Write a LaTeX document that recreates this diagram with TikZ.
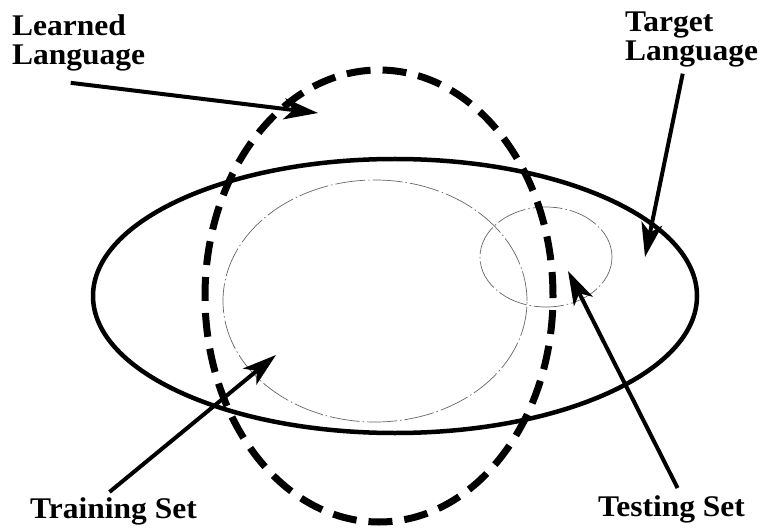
\documentclass[tikz,border=0pt]{standalone}
\usepackage{fontspec}
\setmainfont{Liberation Serif}[FakeStretch=1.05]
\usetikzlibrary{arrows.meta}

\begin{document}
\begin{tikzpicture}[
    x=1pt, y=-1pt,
    font=\fontsize{30}{29}\selectfont\bfseries,
    lang/.style={line width=4.5pt, black},
    learn/.style={line width=7pt, black, dash pattern=on 24pt off 12pt},
    faint/.style={line width=0.7pt, black!60, dash pattern=on 30pt off 3pt on 1.5pt off 3pt},
    ptr/.style={-{Stealth[length=34pt, width=21pt, inset=9pt]}, line width=4pt, black},
    tag/.style={inner sep=0pt, align=left}
  ]
    \useasboundingbox (0,0) rectangle (773,529);
    % ---- sets ----
    \draw[faint] (375,301) ellipse [x radius=152pt, y radius=121pt];
    \draw[faint] (546,257) ellipse [x radius=66pt, y radius=50pt];
    \draw[lang] (395,296) ellipse [x radius=302pt, y radius=137pt];
    \draw[learn] (379,296) ellipse [x radius=174pt, y radius=226pt];
    % ---- labels ----
    \node[tag, anchor=north west] (ll) at (12,14) {Learned\\Language};
    \node[tag, anchor=north west] (tl) at (625,12) {Target\\Language};
    \node[tag, anchor=base west] (trs) at (30,518) {Training Set};
    \node[tag, anchor=base west] (tes) at (598,516) {Testing Set};
    % ---- arrow tips ----
    \coordinate (ll-tip) at (318,113);
    \coordinate (tl-tip) at (645,257);
    \coordinate (trs-tip) at (276,355);
    \coordinate (tes-tip) at (568,271);
    % ---- arrows ----
    \draw[ptr] ([xshift=-8pt,yshift=-12pt]ll.south) -- (ll-tip);
    \draw[ptr] ([xshift=-9pt,yshift=-6pt]tl.south) -- (tl-tip);
    \draw[ptr] ([xshift=-4pt,yshift=5pt]trs.north) -- (trs-tip);
    \draw[ptr] ([xshift=6pt,yshift=7pt]tes.north) -- (tes-tip);
\end{tikzpicture}
\end{document}
